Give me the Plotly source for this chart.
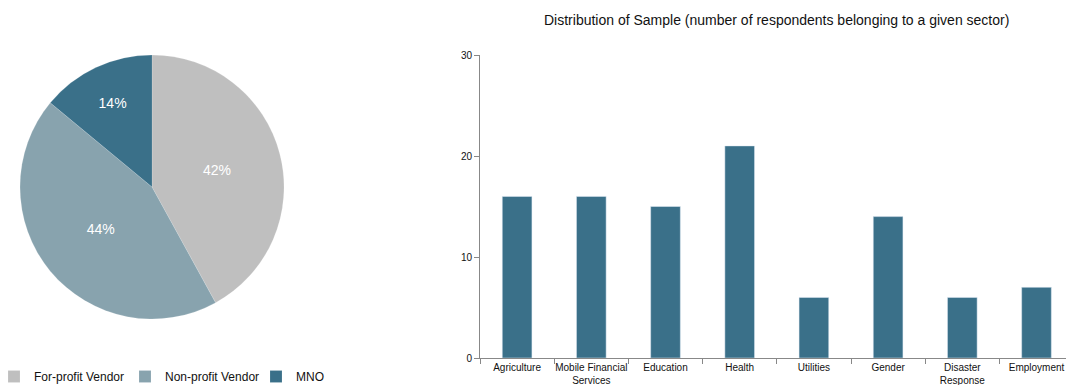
import plotly.graph_objects as go

pie_labels = ["For-profit Vendor", "Non-profit Vendor", "MNO"]
pie_values = [42, 44, 14]
pie_colors = ["#BFBFBF", "#88A3AE", "#3A7089"]

sectors = ["Agriculture", "Mobile Financial<br>Services", "Education", "Health",
           "Utilities", "Gender", "Disaster<br>Response", "Employment"]
counts = [16, 16, 15, 21, 6, 14, 6, 7]
y_ticks = [0, 10, 20, 30]

W, H = 1066, 385
font_main = "Liberation Sans Narrow, Arial Narrow, Liberation Sans, Arial, sans-serif"

fig = go.Figure()

fig.add_trace(go.Pie(
    labels=pie_labels, values=pie_values,
    marker=dict(colors=pie_colors, line=dict(color="rgba(255,255,255,0.3)", width=0.5)),
    sort=False, direction="clockwise", rotation=0,
    textinfo="percent", texttemplate="%{value}%", textposition="inside",
    insidetextorientation="horizontal",
    textfont=dict(color="white", size=14, family=font_main),
    domain=dict(x=[20 / W, 284 / W], y=[1 - 319 / H, 1 - 55 / H]),
    showlegend=True, hoverinfo="label+percent",
))

fig.add_trace(go.Bar(
    x=sectors, y=counts, marker=dict(color="#3A7089"),
    showlegend=False, xaxis="x", yaxis="y",
))

fig.update_layout(
    width=W, height=H,
    margin=dict(l=0, r=0, t=0, b=0, autoexpand=False),
    paper_bgcolor="white", plot_bgcolor="white",
    font=dict(family=font_main, color="#222"),
    bargap=0.6,
    xaxis=dict(
        domain=[480 / W, 1.0], anchor="y",
        range=[-0.5, -0.5 + (W - 480) / 74.2],
        type="category", tickson="boundaries",
        ticks="outside", ticklen=5, tickcolor="#888",
        showline=True, linecolor="#888", linewidth=1,
        showgrid=False, zeroline=False, automargin=False,
        tickangle=0,
        tickfont=dict(size=10, color="#111", family=font_main),
    ),
    yaxis=dict(
        domain=[1 - 358 / H, 1 - 55 / H], anchor="x",
        range=[0, 30], tickvals=y_ticks,
        ticks="outside", ticklen=5, tickcolor="#888",
        showline=True, linecolor="#888", linewidth=1,
        showgrid=False, zeroline=False, automargin=False,
        tickfont=dict(size=10, color="#111", family=font_main),
    ),
    legend=dict(
        orientation="h", x=-6 / W, xanchor="left", y=1 - 362 / H, yanchor="top",
        font=dict(size=12, color="#111", family=font_main),
        entrywidth=86, entrywidthmode="pixels",
        bgcolor="rgba(0,0,0,0)",
        tracegroupgap=0,
    ),
    annotations=[dict(
        text="Distribution of Sample (number of respondents belonging to a given sector)",
        x=776 / W, y=1 - 20 / H, xref="paper", yref="paper",
        xanchor="center", yanchor="middle", showarrow=False,
        font=dict(size=14, color="#111", family=font_main),
    )],
)

fig.write_html("out.html")
